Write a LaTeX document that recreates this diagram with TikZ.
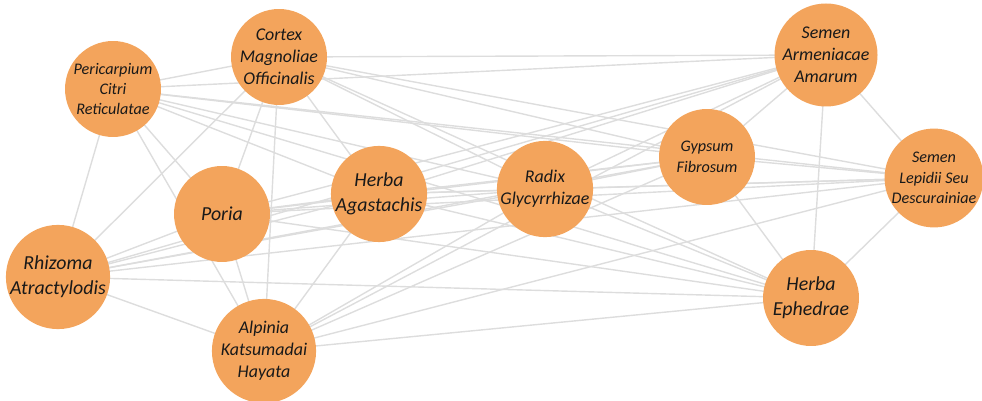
\documentclass[tikz,border=0pt]{standalone}
\usepackage{fontspec}
\setsansfont{Carlito}
\usetikzlibrary{backgrounds}
\definecolor{herbfill}{RGB}{243,164,92}
\definecolor{linkgray}{RGB}{221,221,221}
\begin{document}
\begin{tikzpicture}[x=0.02cm,y=-0.02cm]
		\tikzstyle{Herb} = [circle, minimum size=1.92cm, inner sep=0pt, align=center, fill=herbfill, text=black!90]
		\tikzstyle{Big} = [font=\sffamily\itshape\fontsize{11.3}{14}\selectfont]
		\tikzstyle{Mid} = [font=\sffamily\itshape\fontsize{10.2}{12.4}\selectfont]
		\tikzstyle{Small} = [font=\sffamily\itshape\fontsize{9.2}{11.6}\selectfont]
		\tikzstyle{link} = [line width=0.8pt, draw=linkgray]
		
		\useasboundingbox (0,0) rectangle (982,401);
		\node (pericarp) [Herb, Small] at (113,89) {Pericarpium\\Citri\\Reticulatae};
		\node (cortex) [Herb, Mid] at (279,57) {Cortex\\Magnoliae\\Officinalis};
		\node (poria) [Herb, Big] at (222,214) {Poria};
		\node (rhizoma) [Herb, Big] at (58,277) {Rhizoma\\Atractylodis};
		\node (alpinia) [Herb, Mid] at (264,351) {Alpinia\\Katsumadai\\Hayata};
		\node (agast) [Herb, Big] at (379,194) {Herba\\Agastachis};
		\node (radix) [Herb, Mid] at (545,189) {Radix\\Glycyrrhizae};
		\node (gypsum) [Herb, Small] at (707,157) {Gypsum\\Fibrosum};
		\node (armen) [Herb, Mid] at (826,55) {Semen\\Armeniacae\\Amarum};
		\node (lepid) [Herb, Small] at (934,178) {Semen\\Lepidii Seu\\Descurainiae};
		\node (ephed) [Herb, Big] at (811,298) {Herba\\Ephedrae};
		
		\begin{scope}[on background layer]
		\foreach \a [count=\i] in {pericarp,cortex,poria,rhizoma,alpinia,agast,radix,gypsum,armen,lepid,ephed}
			\foreach \b [count=\j] in {pericarp,cortex,poria,rhizoma,alpinia,agast,radix,gypsum,armen,lepid,ephed}
				{\ifnum\j>\i \draw [link] (\a.center) -- (\b.center); \fi}
		\end{scope}
		\end{tikzpicture}
\end{document}
